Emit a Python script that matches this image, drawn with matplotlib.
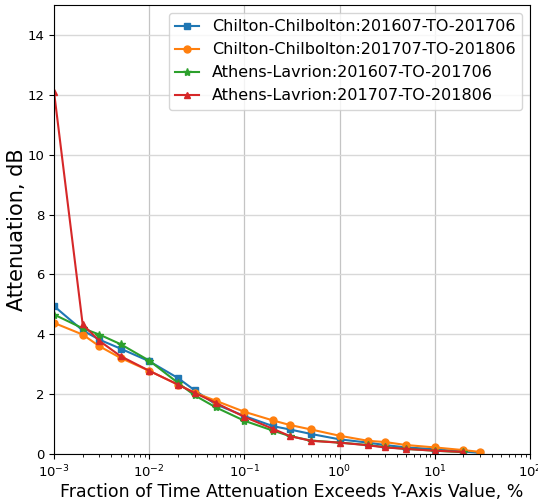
import matplotlib
matplotlib.use("Agg")
import matplotlib.pyplot as plt

# Fraction of time (%) at which attenuation is exceeded
pct = [0.001, 0.002, 0.003, 0.005, 0.01, 0.02, 0.03, 0.05, 0.1, 0.2,
       0.3, 0.5, 1, 2, 3, 5, 10, 20, 30]

chil_1617 = [4.94, 4.13, 3.82, 3.52, 3.10, 2.54, 2.13, 1.66, 1.27, 0.93,
             0.82, 0.67, 0.49, 0.38, 0.30, 0.22, 0.16, 0.08, 0.04]
chil_1718 = [4.38, 3.99, 3.60, 3.21, 2.78, 2.32, 2.05, 1.78, 1.41, 1.12,
             0.97, 0.82, 0.61, 0.44, 0.40, 0.30, 0.22, 0.13, 0.07]
ath_1617 = [4.66, 4.20, 3.99, 3.67, 3.12, 2.38, 1.96, 1.56, 1.11, 0.78,
            0.60, 0.45, 0.38, 0.30, 0.23, 0.17, 0.11, 0.06]
ath_1718 = [12.1, 4.33, 3.78, 3.27, 2.78, 2.32, 2.04, 1.71, 1.24, 0.84,
            0.60, 0.44, 0.38, 0.29, 0.22, 0.17, 0.11, 0.07]

labels = ["Chilton-Chilbolton:201607-TO-201706",
          "Chilton-Chilbolton:201707-TO-201806",
          "Athens-Lavrion:201607-TO-201706",
          "Athens-Lavrion:201707-TO-201806"]

fig = plt.figure(figsize=(5.38, 5.04), dpi=100)
ax = fig.add_axes([0.1004, 0.0992, 0.8846, 0.8908])

ax.plot(pct[:len(chil_1617)], chil_1617, marker="s", markersize=5, color="tab:blue", label=labels[0])
ax.plot(pct[:len(chil_1718)], chil_1718, marker="o", markersize=5, color="tab:orange", label=labels[1])
ax.plot(pct[:len(ath_1617)], ath_1617, marker="*", markersize=6, color="tab:green", label=labels[2])
ax.plot(pct[:len(ath_1718)], ath_1718, marker="^", markersize=5, color="tab:red", label=labels[3])

ax.set_xscale("log")
ax.set_xlim(1e-3, 1e2)
ax.set_ylim(0, 15)
ax.set_yticks([0, 2, 4, 6, 8, 10, 12, 14])
ax.grid(True, axis="x", color="#c4c4c4", linewidth=0.9)
ax.grid(True, axis="y", color="#d8d8d8", linewidth=1.0)
ax.tick_params(labelsize=9.5)
ax.set_xlabel("Fraction of Time Attenuation Exceeds Y-Axis Value, %", fontsize=12.5, labelpad=2)
ax.set_ylabel("Attenuation, dB", fontsize=15, labelpad=0)
ax.legend(loc="upper right", fontsize=11.5, handlelength=1.5)

fig.savefig("out.png", dpi=100)
